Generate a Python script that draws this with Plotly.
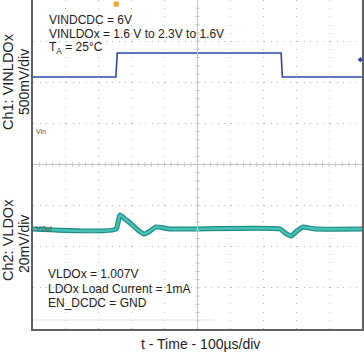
import plotly.graph_objects as go

# ---------------- data ----------------
# time axis in microseconds (100 us/div, 10 divisions)
ch1_time = [0, 252, 256, 754, 758, 1000]
ch1_volt = [1.6, 1.6, 2.3, 2.3, 1.6, 1.6]          # VINLDOx (V)

ch2_time = [0, 252, 264, 280, 295, 319, 337, 356, 374, 392, 416,
            751, 766, 784, 802, 821, 839, 860, 1000]
ch2_volt = [1.007, 1.007, 1.0138, 1.0118, 1.0099, 1.0065, 1.0046, 1.0060, 1.0080, 1.0077, 1.0070,
            1.0070, 1.0051, 1.0036, 1.0060, 1.0080, 1.0075, 1.0070, 1.0070]

x_ticks = [0, 100, 200, 300, 400, 500, 600, 700, 800, 900, 1000]
y_divs = [-4, -3, -2, -1, 0, 1, 2, 3, 4]

trigger_time = [253]
# --------------------------------------

FONT = "Liberation Sans, Arial, sans-serif"
W, H = 364, 356
ML, MR, MT, MB = 33, 2, 0, 27
PW, PH = W - ML - MR, H - MT - MB

# Ch1 mapping (screen: 1.6V -> 77px, 2.3V -> 53px)
v_per_px1 = 0.7 / 24.0
ch1_range = [1.6 - (PH - 77) * v_per_px1, 2.3 + 53 * v_per_px1]
# Ch2 mapping (20 mV/div, 1.007V at 229px)
v_per_px2 = 0.02 / (PH / 8.0)
ch2_range = [1.007 - (PH - 229) * v_per_px2, 1.007 + 229 * v_per_px2]

fig = go.Figure()

# Ch1 trace
fig.add_trace(go.Scatter(x=ch1_time, y=ch1_volt, yaxis="y2", mode="lines",
                         line=dict(color="#3344a8", width=1.6), hoverinfo="skip"))
# Ch2 trace (thick band with dark edges)
fig.add_trace(go.Scatter(x=ch2_time, y=ch2_volt, yaxis="y3", mode="lines",
                         line=dict(color="#1c8c84", width=5, shape="spline", smoothing=0.5), hoverinfo="skip"))
fig.add_trace(go.Scatter(x=ch2_time, y=ch2_volt, yaxis="y3", mode="lines",
                         line=dict(color="#48c2b6", width=2.6, shape="spline", smoothing=0.5), hoverinfo="skip"))
# trigger marker
fig.add_trace(go.Scatter(x=trigger_time, y=[3.9], mode="markers", cliponaxis=False,
                         marker=dict(symbol="square", size=5, color="#f2a32a"), hoverinfo="skip"))
# ch1 reference marker on right edge
fig.add_trace(go.Scatter(x=[995], y=[2.55], mode="markers", cliponaxis=False,
                         marker=dict(symbol="diamond", size=4, color="#3344a8"), hoverinfo="skip"))

shapes = []
cl = "#c4c4c4"
# center cross lines
shapes.append(dict(type="line", xref="x", yref="y", x0=0, x1=1000, y0=0, y1=0, line=dict(color=cl, width=1)))
shapes.append(dict(type="line", xref="x", yref="y", x0=500, x1=500, y0=-4, y1=4, line=dict(color=cl, width=1)))
# minor ticks on center lines
for i in range(1, 50):
    t = i * 20
    shapes.append(dict(type="line", xref="x", yref="y", x0=t, x1=t, y0=-0.055, y1=0.055,
                       line=dict(color=cl, width=1)))
for i in range(-19, 20):
    d = i * 0.2
    shapes.append(dict(type="line", xref="x", yref="y", x0=494, x1=506, y0=d, y1=d,
                       line=dict(color=cl, width=1)))
# faint line near bottom
shapes.append(dict(type="line", xref="x", yref="y", x0=0, x1=551, y0=-3.78, y1=-3.78,
                   line=dict(color="#e2e2e2", width=1)))

ann = []
def txt(px, py, s, size=12, color="#222222", anchor="left", angle=0):
    ann.append(dict(x=(px - ML) / PW, y=1 - (py - MT) / PH, xref="paper", yref="paper",
                    text=s, showarrow=False, xanchor=anchor, yanchor="middle",
                    textangle=angle, font=dict(family=FONT, size=size, color=color)))

txt(47, 20, "VINDCDC = 6V")
txt(47, 33.5, "VINLDOx = 1.6 V to 2.3V to 1.6V")
txt(47, 48, "T<sub>A</sub> = 25°C")
txt(46, 274, "VLDOx = 1.007V")
txt(46, 288.5, "LDOx Load Current = 1mA")
txt(46, 302.5, "EN_DCDC = GND")
txt(34, 131, "Vin", size=7, color="#555555")
txt(34, 228, "VOut", size=7, color="#555555")
txt(8, 82, "Ch1: VINLDOx", size=14.5, anchor="center", angle=-90)
txt(24, 82, "500mV/div", size=14, anchor="center", angle=-90)
txt(8, 240, "Ch2: VLDOx", size=14.5, anchor="center", angle=-90)
txt(24, 244, "20mV/div", size=14, anchor="center", angle=-90)
txt(200, 344, "t - Time - 100µs/div", size=14, anchor="center")

fig.update_layout(
    width=W, height=H, margin=dict(l=ML, r=MR, t=MT, b=MB),
    paper_bgcolor="white", plot_bgcolor="white", showlegend=False,
    shapes=shapes, annotations=ann,
    xaxis=dict(range=[0, 1000], tickvals=x_ticks, showticklabels=False, ticks="",
               showgrid=True, gridcolor="#b8b8b8", griddash="1px,7.2px", gridwidth=1,
               zeroline=False, showline=True, linecolor="#606060", linewidth=1.5, mirror=False),
    yaxis=dict(range=[-4, 4], tickvals=y_divs, showticklabels=False, ticks="",
               showgrid=True, gridcolor="#b8b8b8", griddash="1px,5.6px", gridwidth=1,
               zeroline=False, showline=True, linecolor="#606060", linewidth=1.5, mirror=True),
    yaxis2=dict(range=ch1_range, overlaying="y", visible=False, showgrid=False),
    yaxis3=dict(range=ch2_range, overlaying="y", visible=False, showgrid=False),
)

fig.write_html("out.html", config={"displayModeBar": False},
               post_script="document.body.style.margin='0px';document.body.style.overflow='hidden';")
